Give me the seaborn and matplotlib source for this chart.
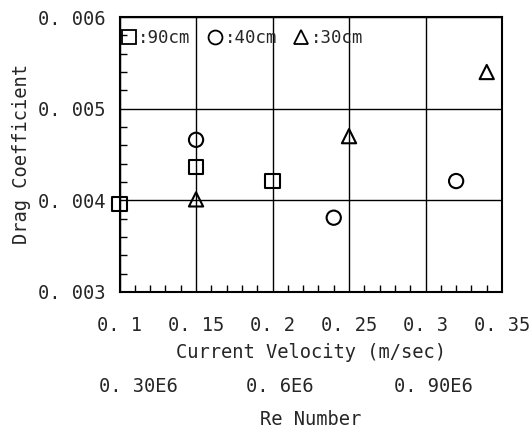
import matplotlib
matplotlib.use("Agg")
import matplotlib.pyplot as plt
import matplotlib.transforms as mtransforms
from matplotlib.lines import Line2D
import seaborn as sns
import pandas as pd

# Data
sq_x = [0.10, 0.15, 0.20]
sq_y = [0.00396, 0.00436, 0.00421]
ci_x = [0.15, 0.24, 0.32]
ci_y = [0.00466, 0.00381, 0.00421]
tr_x = [0.15, 0.25, 0.34]
tr_y = [0.00401, 0.00470, 0.00540]
series_labels = ["90cm", "40cm", "30cm"]
x_ticks = [0.10, 0.15, 0.20, 0.25, 0.30, 0.35]
x_ticklabels = ["0. 1", "0. 15", "0. 2", "0. 25", "0. 3", "0. 35"]
y_ticks = [0.003, 0.004, 0.005, 0.006]
y_ticklabels = ["0. 003", "0. 004", "0. 005", "0. 006"]
re_pos = [0.112, 0.205, 0.305]
re_labels = ["0. 30E6", "0. 6E6", "0. 90E6"]

df = pd.DataFrame({
    "v": sq_x + ci_x + tr_x,
    "cd": sq_y + ci_y + tr_y,
    "s": [series_labels[0]] * 3 + [series_labels[1]] * 3 + [series_labels[2]] * 3,
})

sns.set_theme(style="white")
plt.rcParams["font.family"] = ["DejaVu Sans Mono", "DejaVu Sans"]

fig = plt.figure(figsize=(5.29, 4.37), dpi=100)
ax = fig.add_axes([0.226, 0.332, 0.723, 0.629])

markers = {"90cm": "s", "40cm": "o", "30cm": "^"}
for lab in series_labels:
    sub = df[df["s"] == lab]
    sns.scatterplot(data=sub, x="v", y="cd", marker=markers[lab], s=105,
                    facecolor="none", edgecolor="black", linewidth=1.5,
                    ax=ax, legend=False, zorder=3, clip_on=False)

ax.set_xlim(0.10, 0.35)
ax.set_ylim(0.003, 0.006)
ax.set_xticks(x_ticks)
ax.set_xticklabels(x_ticklabels, fontsize=13.5)
ax.set_yticks(y_ticks)
ax.set_yticklabels(y_ticklabels, fontsize=13.5)
ax.set_xticks([0.10 + 0.01 * i for i in range(26)], minor=True)
ax.set_yticks([0.003 + 0.0002 * i for i in range(16)], minor=True)
ax.tick_params(axis="both", which="major", direction="out", length=7, width=1, color="black")
ax.tick_params(axis="x", which="major", pad=10)
ax.tick_params(axis="y", which="major", pad=3)
ax.tick_params(axis="both", which="minor", direction="in", length=5, width=1, color="black")
ax.tick_params(axis="x", which="minor", bottom=True)
ax.tick_params(axis="y", which="minor", left=True)
ax.grid(True, which="major", color="black", linewidth=1)
for sp in ax.spines.values():
    sp.set_color("black")
    sp.set_linewidth(1.5)

ax.set_xlabel("Current Velocity (m/sec)", fontsize=13.5, labelpad=6)
ax.set_ylabel("Drag Coefficient", fontsize=13.5, labelpad=5)

trans = mtransforms.blended_transform_factory(ax.transData, ax.transAxes)
for p, t in zip(re_pos, re_labels):
    ax.text(p, -0.345, t, transform=trans, ha="center", va="center", fontsize=13.5)
ax.text(0.5, -0.465, "Re Number", transform=ax.transAxes, ha="center", va="center", fontsize=13.5)

handles = [Line2D([], [], marker=markers[l], linestyle="none", markerfacecolor="none",
                  markeredgecolor="black", markersize=10, markeredgewidth=1.3) for l in series_labels]
ax.legend(handles, [":" + l for l in series_labels], ncol=3, loc="upper left", frameon=False,
          handletextpad=0.1, handlelength=0.9, columnspacing=0.95, fontsize=12.5,
          borderaxespad=0.0, borderpad=0.4, bbox_to_anchor=(-0.015, 0.98))

fig.savefig("out.png", dpi=100, facecolor="white")
